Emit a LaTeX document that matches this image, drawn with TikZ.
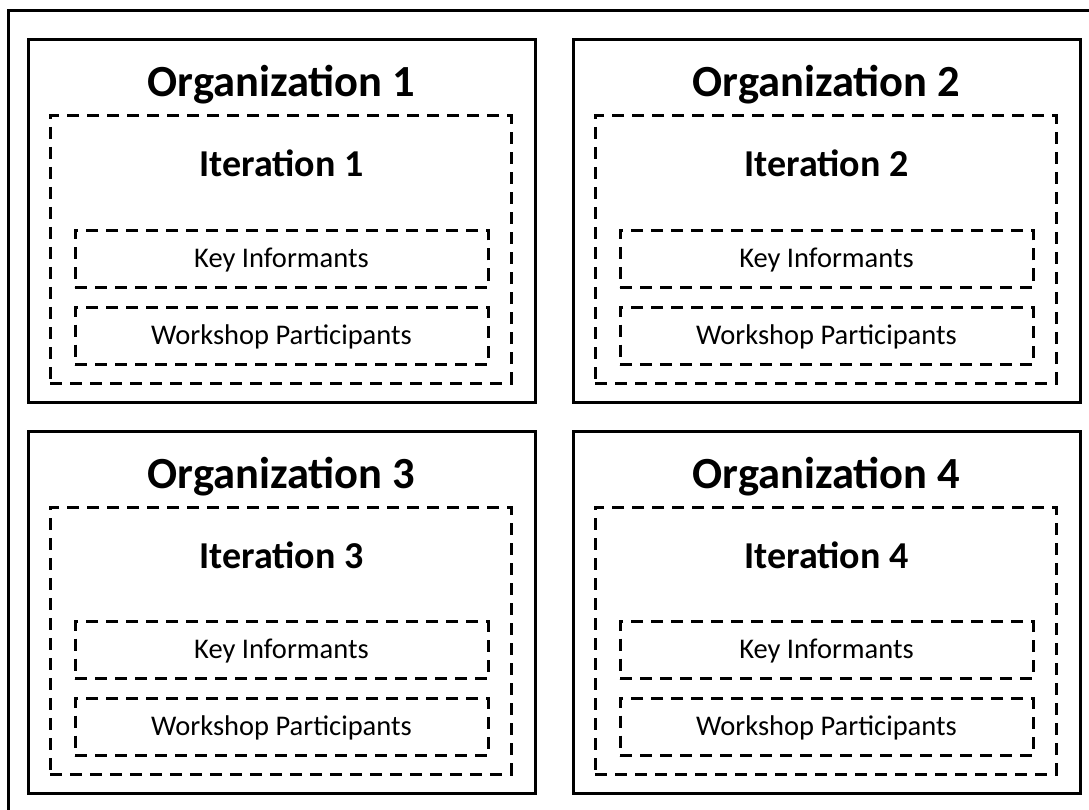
\documentclass[tikz,border=0pt]{standalone}
\usepackage{fontspec}
\setmainfont{Carlito}
\begin{document}
\begin{tikzpicture}[x=1pt,y=-1pt,
  orgbox/.style={draw, line width=3pt, minimum width=507pt, minimum height=362pt, inner sep=0pt},
  iterbox/.style={draw, line width=3pt, dash pattern=on 12pt off 8pt, minimum width=461pt, minimum height=267pt, inner sep=0pt},
  rolebox/.style={draw, line width=3pt, dash pattern=on 12pt off 8pt, minimum width=413pt, minimum height=57pt,
    inner sep=0pt, text height=17pt, text depth=0pt, font=\fontsize{28.5}{32}\selectfont},
  orgtitle/.style={anchor=base, inner sep=0pt, font=\bfseries\fontsize{44.5}{50}\selectfont},
  itertitle/.style={anchor=base, inner sep=0pt, font=\bfseries\fontsize{38}{42}\selectfont}]
\useasboundingbox (0,0) rectangle (1089,810);
\clip (0,0) rectangle (1089,810);
% outer frame, running past the right and bottom edges
\draw[line width=3pt] (8,11) rectangle (1100,822);
% one panel per organization: \i / left / top
\foreach \i/\x/\y in {1/28/40, 2/573/40, 3/28/431, 4/573/431} {
  \node[orgbox] (org\i) at (\x+253.5,\y+181) {};
  \node[orgtitle] (orgt\i) at (\x+253.5,\y+57) {Organization \i};
  \node[iterbox] (it\i) at (\x+252.5,\y+209.5) {};
  \node[itertitle] (itt\i) at (\x+253.5,\y+137) {Iteration \i};
  \node[rolebox] (key\i) at (\x+253.5,\y+219) {Key Informants};
  \node[rolebox] (ws\i) at (\x+253.5,\y+296) {Workshop Participants};
}
\end{tikzpicture}
\end{document}
